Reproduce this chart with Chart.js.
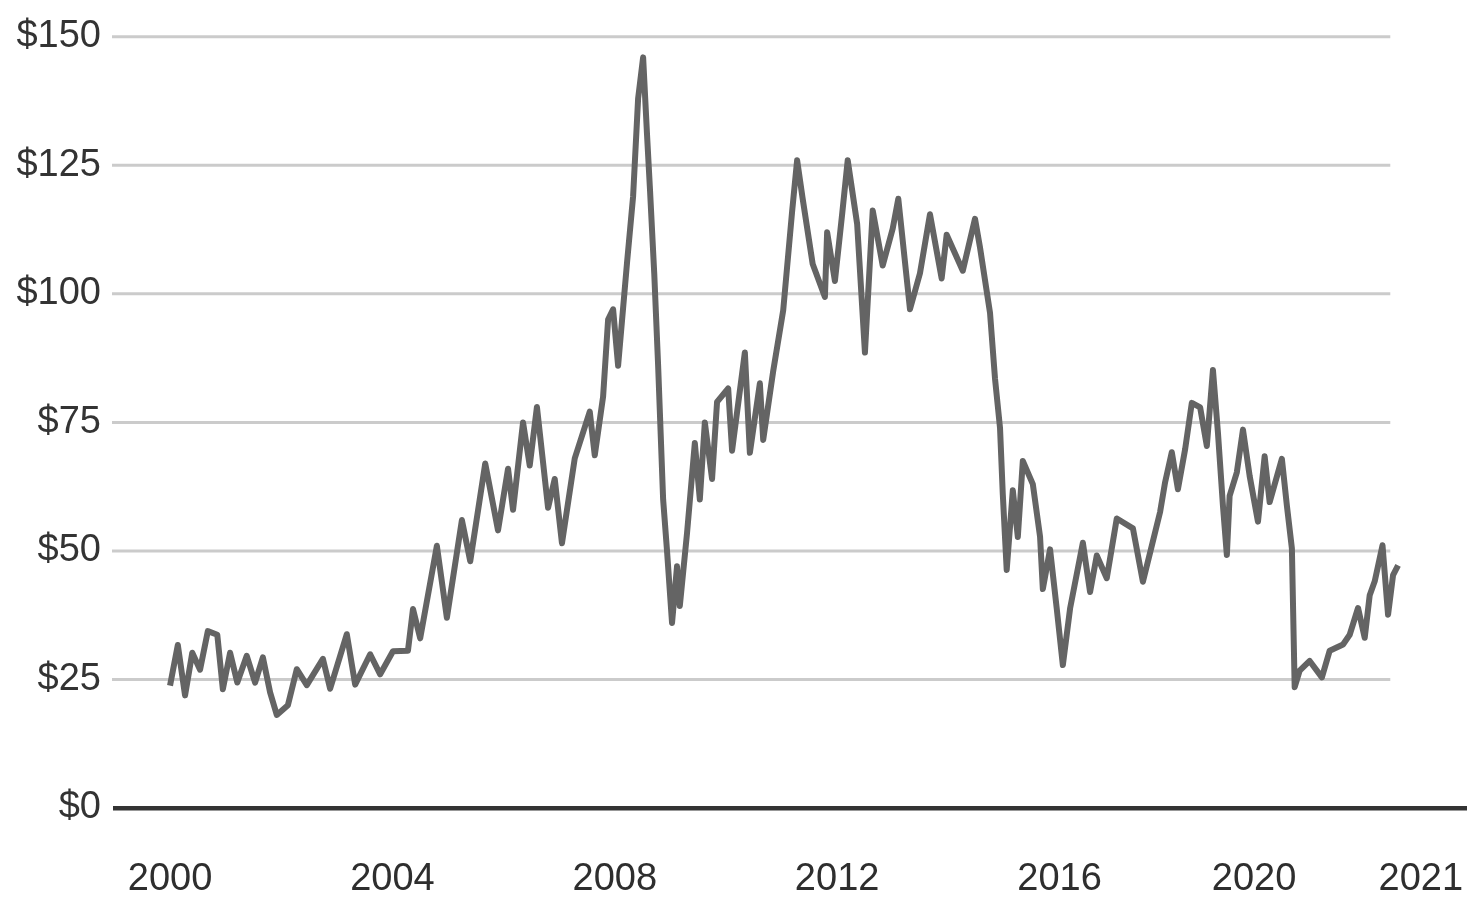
<!DOCTYPE html>
<html>
<head>
<meta charset="utf-8">
<script src="https://cdn.jsdelivr.net/npm/chart.js@4.4.1/dist/chart.umd.min.js"></script>
<style>
  html, body { margin: 0; padding: 0; background: #fff; }
  #wrap { width: 1467px; height: 912px; position: relative; }
</style>
</head>
<body>
<div id="wrap"><canvas id="oilChart"></canvas></div>
<script>
// weekly-ish price line (fractional year, dollars)
var years = [
  2000.00, 2000.14, 2000.27, 2000.40, 2000.54, 2000.68, 2000.85, 2000.95, 2001.08, 2001.21,
  2001.38, 2001.53, 2001.67, 2001.80, 2001.92, 2002.12, 2002.28, 2002.46, 2002.75, 2002.88,
  2003.18, 2003.33, 2003.60, 2003.78, 2004.01, 2004.28, 2004.37, 2004.50, 2004.80, 2004.98,
  2005.25, 2005.40, 2005.67, 2005.90, 2006.08, 2006.17, 2006.35, 2006.47, 2006.60, 2006.80,
  2006.92, 2007.05, 2007.28, 2007.55, 2007.64, 2007.79, 2007.88, 2007.97, 2008.06, 2008.22,
  2008.33, 2008.42, 2008.51, 2008.58, 2008.63, 2008.71, 2008.78, 2008.87, 2008.94, 2009.03,
  2009.12, 2009.17, 2009.30, 2009.44, 2009.53, 2009.62, 2009.75, 2009.84, 2010.04, 2010.11,
  2010.34, 2010.43, 2010.61, 2010.67, 2010.85, 2011.03, 2011.19, 2011.28, 2011.38, 2011.56,
  2011.78, 2011.82, 2011.96, 2012.09, 2012.19, 2012.36, 2012.50, 2012.64, 2012.82, 2013.00,
  2013.10, 2013.31, 2013.49, 2013.67, 2013.88, 2013.97, 2014.26, 2014.48, 2014.57, 2014.75,
  2014.84, 2014.93, 2014.98, 2015.05, 2015.16, 2015.25, 2015.34, 2015.52, 2015.65, 2015.70,
  2015.83, 2015.95, 2016.06, 2016.19, 2016.42, 2016.55, 2016.67, 2016.85, 2017.03, 2017.32,
  2017.50, 2017.66, 2017.81, 2017.90, 2018.02, 2018.13, 2018.26, 2018.38, 2018.53, 2018.65,
  2018.76, 2018.85, 2018.94, 2019.01, 2019.06, 2019.19, 2019.30, 2019.42, 2019.57, 2019.69,
  2019.78, 2020.00, 2020.09, 2020.18, 2020.23, 2020.32, 2020.50, 2020.72, 2020.86, 2021.10,
  2021.22, 2021.37, 2021.49, 2021.58, 2021.67, 2021.81, 2021.91, 2022.00, 2022.09
];
var prices = [
  23.8, 31.7, 21.9, 30.2, 26.9, 34.4, 33.7, 23.1, 30.2, 24.4,
  29.6, 24.4, 29.3, 22.5, 18.1, 20.0, 27.0, 23.9, 29.0, 23.2,
  33.8, 24.0, 29.9, 26.0, 30.5, 30.6, 38.7, 33.0, 51.0, 37.0,
  56.0, 48.0, 67.0, 54.0, 66.0, 58.0, 75.0, 66.6, 78.0, 58.4,
  64.0, 51.5, 68.0, 77.1, 68.6, 80.0, 95.0, 97.0, 86.0, 106.0,
  119.0, 138.0, 146.0, 131.0, 121.0, 104.0, 86.0, 60.0, 50.0, 36.0,
  47.0, 39.3, 53.5, 71.0, 60.0, 75.0, 64.0, 79.0, 81.6, 69.5,
  88.6, 69.1, 82.6, 71.6, 85.0, 96.8, 116.0, 126.0, 118.5, 105.8,
  99.4, 112.0, 102.5, 115.5, 126.0, 113.6, 88.6, 116.2, 105.5, 112.7,
  118.5, 97.0, 104.0, 115.5, 103.0, 111.5, 104.5, 114.6, 109.0, 96.3,
  83.5, 73.9, 61.0, 46.3, 61.8, 52.7, 67.5, 63.0, 52.8, 42.6,
  50.3, 38.8, 27.8, 38.8, 51.6, 42.0, 49.1, 44.7, 56.3, 54.4,
  44.0, 51.0, 57.6, 63.4, 69.2, 62.0, 69.8, 78.8, 77.9, 70.4,
  85.2, 73.0, 58.8, 49.2, 60.7, 65.3, 73.6, 64.6, 55.7, 68.4,
  59.5, 67.9, 58.8, 50.5, 23.5, 26.7, 28.6, 25.4, 30.6, 31.8,
  33.7, 38.9, 33.1, 41.4, 44.1, 51.1, 37.6, 45.3, 47.2
];

// axis labels and where they sit along the year axis
var tickLabels = ['2000', '2004', '2008', '2012', '2016', '2020', '2021'];
var tickYears = [2000, 2004, 2008, 2012, 2016, 2019.5, 2022.5];
var yTicks = [0, 25, 50, 75, 100, 125, 150];

var points = years.map(function(y, i) { return { x: y, y: prices[i] }; });

// light grid lines that stop short of the right edge
var gridPlugin = {
  id: 'shortGrid',
  beforeDatasetsDraw: function(chart) {
    var ctx = chart.ctx, xs = chart.scales.x, ys = chart.scales.y;
    var x0 = chart.chartArea.left - 3;
    var x1 = xs.getPixelForValue(2021.95);
    ctx.save();
    ctx.strokeStyle = '#cbcbcb';
    ctx.lineWidth = 3;
    yTicks.forEach(function(v) {
      if (v === 0) return;
      var py = ys.getPixelForValue(v);
      ctx.beginPath();
      ctx.moveTo(x0, py);
      ctx.lineTo(x1, py);
      ctx.stroke();
    });
    ctx.restore();
  }
};

var ctx = document.getElementById('oilChart').getContext('2d');
new Chart(ctx, {
  type: 'line',
  data: {
    datasets: [{
      data: points,
      borderColor: '#646464',
      borderWidth: 6,
      pointRadius: 0,
      tension: 0,
      borderJoinStyle: 'round'
    }]
  },
  options: {
    responsive: true,
    maintainAspectRatio: false,
    animation: false,
    layout: { padding: { top: 31, right: 0, bottom: 0, left: 0 } },
    plugins: { legend: { display: false }, tooltip: { enabled: false } },
    scales: {
      x: {
        type: 'linear',
        min: 1999.01,
        max: 2023.33,
        grid: { display: false, drawTicks: false },
        border: { display: true, color: '#333', width: 4.5 },
        afterFit: function(scale) {
          scale.height = 104;
          scale.paddingLeft = 0;
          scale.paddingRight = 0;
        },
        afterBuildTicks: function(scale) {
          scale.ticks = tickYears.map(function(v) { return { value: v }; });
        },
        ticks: {
          autoSkip: false,
          maxRotation: 0,
          padding: 49,
          color: '#2e2e2e',
          font: { family: '"Liberation Sans", Arial, sans-serif', size: 38 },
          callback: function(v, i) { return tickLabels[i]; }
        }
      },
      y: {
        min: 0,
        max: 150,
        grid: { display: false, drawTicks: false },
        border: { display: false },
        afterFit: function(scale) { scale.width = 115; },
        afterBuildTicks: function(scale) {
          scale.ticks = yTicks.map(function(v) { return { value: v }; });
        },
        ticks: {
          padding: 14,
          color: '#333',
          font: { family: '"Liberation Sans", Arial, sans-serif', size: 38 },
          callback: function(v) { return '$' + v; }
        }
      }
    }
  },
  plugins: [gridPlugin]
});
</script>
</body>
</html>
